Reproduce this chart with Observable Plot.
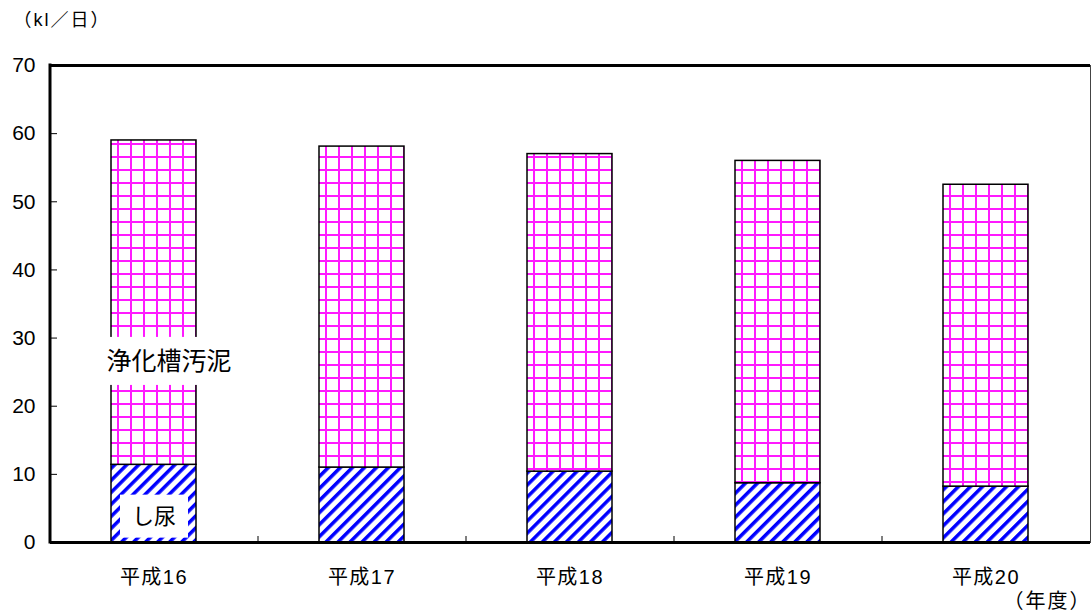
<!DOCTYPE html>
<html>
<head>
<meta charset="utf-8">
<script src="https://cdn.jsdelivr.net/npm/d3@7"></script>
<script src="https://cdn.jsdelivr.net/npm/@observablehq/plot@0.6"></script>
<style>
  html, body { margin: 0; padding: 0; background: #fff; }
  #chart svg { display: block; }
  #chart g[aria-label="x-axis tick label"] text { letter-spacing: 1.5px; }
</style>
</head>
<body>
<div id="chart"></div>
<script>
// Fiscal years (Heisei era)
const years = ["平成16", "平成17", "平成18", "平成19", "平成20"];
// Series, bottom to top
const types = ["し尿", "浄化槽汚泥"];
// Daily treated volume (kl/day)
const shinyo  = [11.4, 11.0, 10.4, 8.7, 8.2];
const johkaso = [47.6, 47.1, 46.6, 47.3, 44.3];
// Value axis ticks
const yTicks = [0, 10, 20, 30, 40, 50, 60, 70];
const unitLabel = "（kl／日）";
const yearLabel = "（年度）";

// Where the in-chart series names sit, and the white plate behind each
const labelPlacement = [
  { text: types[1], year: years[0], y: 26.5, dx: 15, size: 25, padX: 3,  boxH: 48 },
  { text: types[0], year: years[0], y: 3.8,  dx: 0,  size: 22, padX: 12, boxH: 43 }
];
// Extra tracking for the unit captions
const captionSpacing = { [unitLabel]: "2px", [yearLabel]: "2px" };

const W = 1092, H = 614;
const ML = 50, MR = 2, MT = 65, MB = 72;
const frameW = W - ML - MR, frameH = H - MT - MB;
const step = frameW / years.length;

const rows = years.flatMap((year, i) => [
  { year, type: types[0], value: shinyo[i] },
  { year, type: types[1], value: johkaso[i] }
]);

const chart = Plot.plot({
  width: W,
  height: H,
  marginLeft: ML,
  marginRight: MR,
  marginTop: MT,
  marginBottom: MB,
  style: {
    fontFamily: '"Liberation Sans", "Noto Sans CJK JP", sans-serif',
    fontSize: "19px",
    color: "#000",
    background: "#fff"
  },
  x: { domain: years, paddingInner: 0.59, paddingOuter: 0.295, axis: null, label: null },
  y: { domain: [0, 70], axis: null, label: null },
  color: { type: "ordinal", domain: types, range: ["url(#hatch)", "url(#grid)"] },
  marks: [
    Plot.frame({ stroke: "#444", strokeWidth: 1 }),
    Plot.barY(rows, { x: "year", y: "value", fill: "type", stroke: "#000", strokeWidth: 1.5 }),
    // inward ticks on the value axis
    Plot.ruleY(yTicks.slice(1, -1), { y: d => d, stroke: "#000", strokeWidth: 1, insetRight: frameW - 7 }),
    // short ticks between year groups
    Plot.ruleX(years.slice(0, -1), { x: d => d, dx: step / 2, insetTop: frameH - 6, stroke: "#000", strokeWidth: 1 }),
    // heavy top and baseline
    Plot.ruleY([yTicks[0], yTicks[yTicks.length - 1]], { y: d => d, stroke: "#000", strokeWidth: 3 }),
    // heavy left axis line
    (index, scales, values, dims) =>
      d3.create("svg:line")
        .attr("x1", dims.marginLeft).attr("x2", dims.marginLeft)
        .attr("y1", dims.marginTop - 1.5).attr("y2", dims.height - dims.marginBottom + 1.5)
        .attr("stroke", "#000").attr("stroke-width", 3)
        .node(),
    Plot.axisY(yTicks, { tickSize: 0, tickPadding: 15, fontSize: 21, label: null }),
    Plot.axisX({ tickSize: 0, tickPadding: 27, fontSize: 20, label: null }),
    ...labelPlacement.map(p =>
      Plot.text([p], { x: "year", y: "y", text: "text", dx: p.dx, fontSize: p.size, fill: "#000" })
    ),
    Plot.text([unitLabel], { frameAnchor: "top-left", text: d => d, textAnchor: "start", lineAnchor: "middle", dx: -37, dy: -45, fontSize: 18 }),
    Plot.text([yearLabel], { frameAnchor: "bottom-right", text: d => d, textAnchor: "end", lineAnchor: "middle", dx: 1, dy: 59, fontSize: 20 })
  ]
});

document.getElementById("chart").append(chart);

const svg = d3.select(chart);
svg.insert("defs", ":first-child").html(`
  <pattern id="grid" patternUnits="userSpaceOnUse" width="13" height="13">
    <rect width="13" height="13" fill="#fff"/>
    <rect x="0" y="0" width="2" height="13" fill="#ff1aff"/>
    <rect x="0" y="0" width="13" height="2" fill="#ff1aff"/>
  </pattern>
  <pattern id="hatch" patternUnits="userSpaceOnUse" width="8.5" height="8.5" patternTransform="rotate(45)">
    <rect width="8.5" height="8.5" fill="#fff"/>
    <rect width="3.5" height="8.5" fill="#0000ff"/>
  </pattern>
`);

svg.selectAll("text").each(function () {
  const content = this.textContent;
  if (captionSpacing[content]) this.style.letterSpacing = captionSpacing[content];
  // White plates behind the series names (placed in the text's own coordinates)
  const p = labelPlacement.find(l => l.text === content);
  if (!p) return;
  const b = this.getBBox();
  const cy = b.y + b.height / 2;
  const rect = document.createElementNS("http://www.w3.org/2000/svg", "rect");
  rect.setAttribute("x", b.x - p.padX);
  rect.setAttribute("y", cy - p.boxH / 2);
  rect.setAttribute("width", b.width + 2 * p.padX);
  rect.setAttribute("height", p.boxH);
  rect.setAttribute("fill", "#fff");
  const t = this.getAttribute("transform");
  if (t) rect.setAttribute("transform", t);
  this.parentNode.insertBefore(rect, this);
});
</script>
</body>
</html>
